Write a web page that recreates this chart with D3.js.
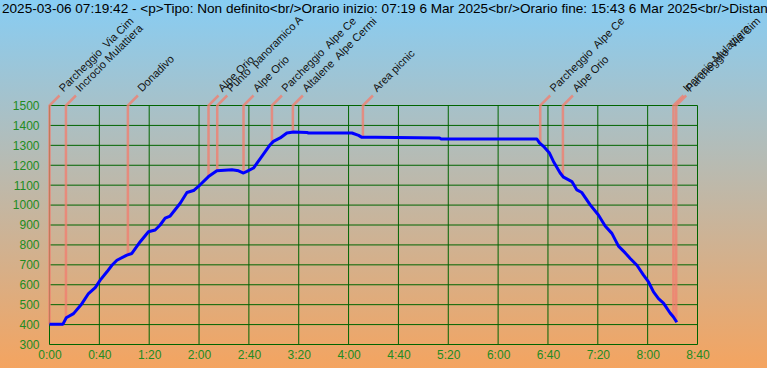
<!DOCTYPE html>
<html><head><meta charset="utf-8">
<script src="https://cdn.jsdelivr.net/npm/d3@7"></script>
<style>html,body{margin:0;padding:0;overflow:hidden;}svg{display:block;}</style>
</head><body>
<script>
const titleText = "2025-03-06 07:19:42 - <p>Tipo: Non definito<br/>Orario inizio: 07:19 6 Mar 2025<br/>Orario fine: 15:43 6 Mar 2025<br/>Distan";
// profile: minutes from start, elevation (m)
const profileMinutes = [0,10.8,13.4,19.3,26.0,31.3,36.7,40.7,46.1,50.1,54.1,62.1,66.1,72.8,79.4,84.8,88.8,92.8,96.8,104.9,110.3,115.6,120.9,127.6,134.3,146.4,151.7,155.7,158.4,163.7,170.4,177.1,179.7,185.1,190.5,195.8,206.5,207.8,242.7,248.0,250.7,261.4,313.0,314.3,391.1,393.2,396.4,401.2,404.4,409.8,412.5,419.2,423.2,427.2,433.9,440.5,445.9,451.3,456.6,462.0,466.0,471.4,476.7,480.7,484.7,488.7,492.7,498.0,500.7,503.4];
const profileElev = [402,402,434,455,505,556,586,623,665,698,723,749,757,816,866,875,900,934,945,1009,1063,1073,1102,1143,1172,1177,1172,1161,1169,1186,1244,1303,1320,1337,1362,1367,1365,1362,1362,1350,1340,1340,1337,1332,1332,1312,1295,1261,1219,1161,1140,1118,1076,1063,1001,950,895,858,794,760,732,698,648,614,564,530,508,458,438,412];
const wpNames = ["Parcheggio  Via Cim","Incrocio Mulattiera","Donadivo","Alpe Orio","Punto  panoramico A","Alpe Orio","Parcheggio  Alpe Ce","Altalene  Alpe Cermi","Area picnic","Parcheggio  Alpe Ce","Alpe Orio","Incrocio Mulattiera","Parcheggio  Via Cim"];
const wpMinutes = [0,13.2,62.9,127.6,134.6,155.7,178.5,195.3,251.5,393.8,412.0,500.7,502.9];
const wpElev = [402,432,752,1143,1172,1161,1315,1367,1340,1312,1140,438,415];
const xTicks = [0,40,80,120,160,200,240,280,320,360,400,440,480,520];
const yTicks = [300,400,500,600,700,800,900,1000,1100,1200,1300,1400,1500];

const W = 767, H = 368;
const svg = d3.select("body").append("svg").attr("width", W).attr("height", H);
const defs = svg.append("defs");
const grad = defs.append("linearGradient").attr("id","bg").attr("x1",0).attr("y1",0).attr("x2",0).attr("y2",1);
grad.append("stop").attr("offset","0%").attr("stop-color","#87cdf4");
grad.append("stop").attr("offset","100%").attr("stop-color","#f4a460");
svg.append("rect").attr("width",W).attr("height",H).attr("fill","url(#bg)");

const x = d3.scaleLinear().domain([0,520]).range([49.5,697.5]);
const y = d3.scaleLinear().domain([300,1500]).range([344.5,105.5]);
const fmt = m => Math.floor(m/60) + ":" + String(m%60).padStart(2,"0");
const font = "'Liberation Sans', Arial, sans-serif";

svg.append("text").attr("x",2).attr("y",13).attr("font-family",font).attr("font-size",13.6)
  .attr("fill","#000").text(titleText);

// grid
const grid = svg.append("g").attr("stroke","#006400").attr("stroke-width",1);
grid.selectAll(".v").data(xTicks).join("line").attr("x1",d=>x(d)).attr("x2",d=>x(d)).attr("y1",y(300)).attr("y2",y(1500));
grid.selectAll(".h").data(yTicks).join("line").attr("y1",d=>y(d)).attr("y2",d=>y(d)).attr("x1",x(0)).attr("x2",x(520));

// axes labels
const xAxis = d3.axisBottom(x).tickValues(xTicks).tickFormat(fmt).tickSize(0).tickPadding(6);
const gx = svg.append("g").attr("transform",`translate(0,${y(300)})`).call(xAxis);
const yAxis = d3.axisLeft(y).tickValues(yTicks).tickFormat(d3.format("d")).tickSize(0).tickPadding(10);
const gy = svg.append("g").attr("transform",`translate(${x(0)},0)`).call(yAxis);
[gx,gy].forEach(g=>{
  g.select(".domain").remove();
  g.selectAll("text").attr("fill","#228b22").attr("font-family",font).attr("font-size",12);
});

// waypoint markers
const wp = wpNames.map((n,i)=>({n, m:wpMinutes[i], e:wpElev[i]}));
const mk = svg.append("g");
mk.selectAll("path").data(wp).join("path")
  .attr("d",d=>`M${x(d.m)},${y(d.e)}L${x(d.m)},${y(1500)}L${x(d.m)+10},${y(1500)-10}`)
  .attr("fill","none").attr("stroke","#f08070").attr("stroke-opacity",0.8).attr("stroke-width",2.5);
mk.selectAll("text").data(wp).join("text")
  .attr("transform",d=>`translate(${x(d.m)+14},${y(1500)-13}) rotate(-45)`)
  .attr("font-family",font).attr("font-size",11).attr("fill","#111")
  .style("white-space","pre").text(d=>d.n);

// profile line
const prof = profileMinutes.map((m,i)=>({m, e:profileElev[i]}));
svg.append("path").datum(prof)
  .attr("d", d3.line().x(d=>x(d.m)).y(d=>y(d.e)))
  .attr("fill","none").attr("stroke","#0000ff").attr("stroke-width",3).attr("stroke-linejoin","round");
</script>
</body></html>
